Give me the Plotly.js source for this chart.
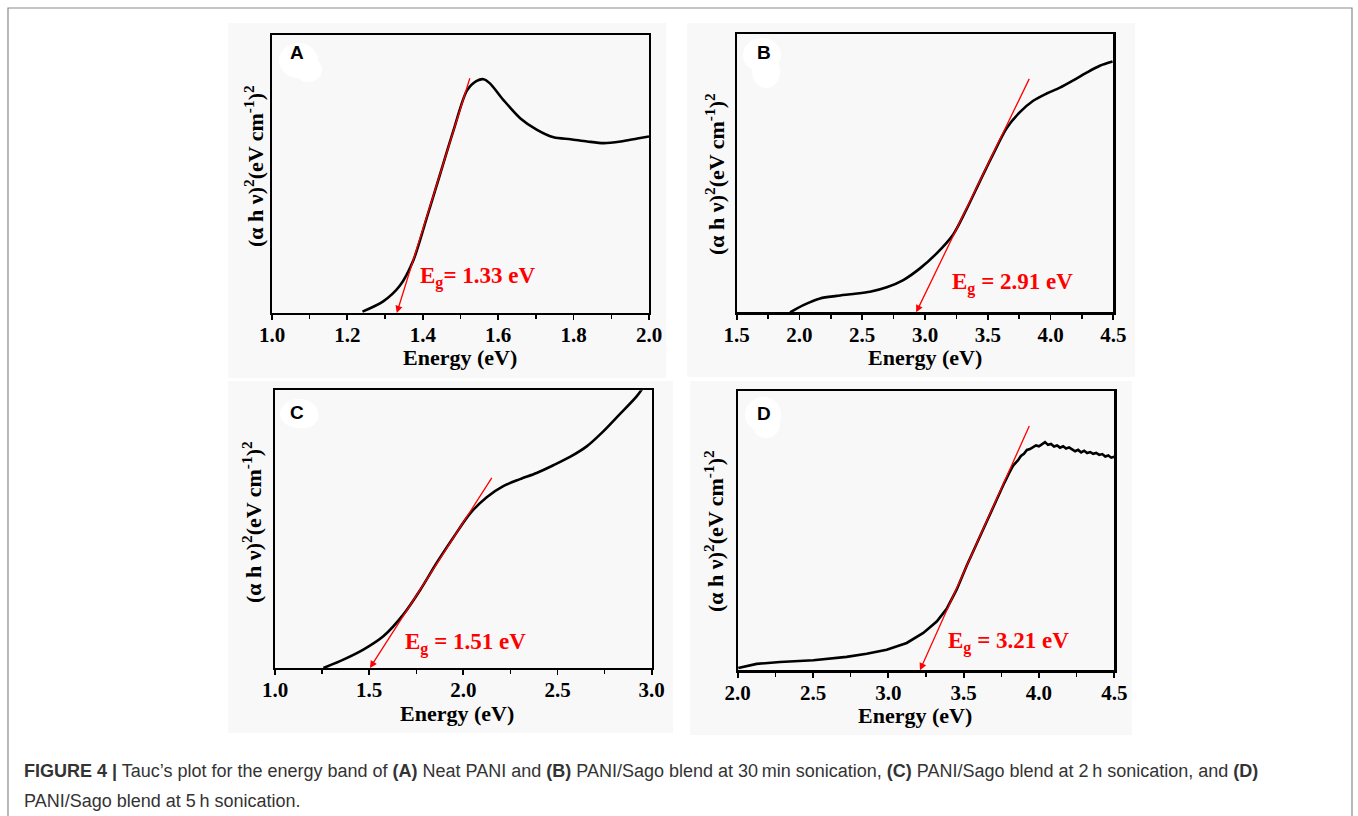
<!DOCTYPE html>
<html>
<head>
<meta charset="utf-8">
<script src="https://cdn.plot.ly/plotly-3.0.1.min.js"></script>
<style>
html,body{margin:0;padding:0;background:#fff;}
#chart{width:1358px;height:816px;}
</style>
</head>
<body>
<div id="chart"></div>
<script>
// ---------------- DATA ----------------
const panelLetters = ['A', 'B', 'C', 'D'];

// Panel A: Neat PANI
const energyA = [1.24, 1.295, 1.339, 1.375, 1.41, 1.446, 1.481, 1.517, 1.543, 1.561, 1.578, 1.614, 1.659, 1.703, 1.747, 1.792, 1.836, 1.88, 1.925, 1.969, 2.0];
const taucA   = [0.005, 0.042, 0.098, 0.19, 0.34, 0.50, 0.655, 0.80, 0.835, 0.841, 0.826, 0.766, 0.70, 0.659, 0.632, 0.625, 0.617, 0.611, 0.617, 0.628, 0.635];
const tangentAx = [1.331, 1.526];
const tangentAy = [0, 0.85];

// Panel B: PANI/Sago 30 min
const energyB = [1.925, 2.031, 2.164, 2.296, 2.429, 2.562, 2.695, 2.827, 2.96, 3.093, 3.225, 3.332, 3.438, 3.544, 3.65, 3.756, 3.862, 3.969, 4.075, 4.181, 4.287, 4.393, 4.494];
const taucB   = [0.0, 0.026, 0.05, 0.059, 0.066, 0.074, 0.09, 0.116, 0.158, 0.212, 0.28, 0.372, 0.472, 0.57, 0.662, 0.72, 0.761, 0.787, 0.808, 0.834, 0.862, 0.887, 0.902];
const tangentBx = [2.93, 3.836];
const tangentBy = [0, 0.845];

// Panel C: PANI/Sago 2 h
const energyC = [1.257, 1.363, 1.469, 1.575, 1.681, 1.77, 1.858, 1.947, 2.035, 2.124, 2.212, 2.301, 2.389, 2.478, 2.566, 2.655, 2.743, 2.832, 2.92, 2.975];
const taucC   = [0.0, 0.03, 0.066, 0.114, 0.192, 0.28, 0.378, 0.47, 0.556, 0.615, 0.655, 0.68, 0.702, 0.73, 0.76, 0.798, 0.852, 0.915, 0.978, 1.03];
const tangentCx = [1.504, 2.156];
const tangentCy = [0, 0.69];

// Panel D: PANI/Sago 5 h
const energyD = [2.004, 2.126, 2.281, 2.502, 2.723, 2.856, 2.989, 3.122, 3.232, 3.321, 3.387, 3.454, 3.52, 3.586, 3.653, 3.719, 3.77,
                 3.80, 3.83, 3.86, 3.88, 3.90, 3.92, 3.94, 3.96, 3.98, 4.00, 4.02, 4.04, 4.06, 4.08, 4.10, 4.12, 4.14, 4.16, 4.18, 4.20,
                 4.22, 4.24, 4.26, 4.28, 4.30, 4.32, 4.34, 4.36, 4.38, 4.40, 4.42, 4.44, 4.46, 4.48, 4.50];
const taucD   = [0.008, 0.023, 0.03, 0.036, 0.048, 0.059, 0.074, 0.098, 0.134, 0.175, 0.22, 0.29, 0.375, 0.455, 0.535, 0.615, 0.672,
                 0.705, 0.735, 0.752, 0.768, 0.776, 0.790, 0.793, 0.800, 0.806, 0.803, 0.812, 0.818, 0.808, 0.811, 0.802, 0.806, 0.798, 0.803, 0.795, 0.799,
                 0.792, 0.785, 0.790, 0.781, 0.787, 0.779, 0.782, 0.776, 0.779, 0.772, 0.775, 0.766, 0.770, 0.762, 0.765];
const tangentDx = [3.21, 3.94];
const tangentDy = [0, 0.881];

// Axis ranges and ticks
const xRanges = [[1.0, 2.0], [1.5, 4.5], [1.0, 3.0], [2.0, 4.5]];
const xDticks = [0.2, 0.5, 0.5, 0.5];
const xMinorDticks = [0.1, 0.25, 0.25, 0.25];

// Band gap labels
const egLabels = ['E<sub>g</sub>= 1.33 eV', 'E<sub>g</sub> = 2.91 eV', 'E<sub>g</sub> = 1.51 eV', 'E<sub>g</sub> = 3.21 eV'];
const egLabelX = [1.545, 3.70, 2.012, 3.80];
const egLabelY = [0.126, 0.104, 0.09, 0.098];

const xTitle = 'Energy (eV)';
const yTitle = '(α h ν)<sup>2</sup>(eV cm<sup>-1</sup>)<sup>2</sup>';
const captionLine1 = '<b>FIGURE 4 |</b> Tauc’s plot for the energy band of <b>(A)</b> Neat PANI and <b>(B)</b> PANI/Sago blend at 30\u2009min sonication, <b>(C)</b> PANI/Sago blend at 2\u2009h sonication, and <b>(D)</b>';
const captionLine2 = 'PANI/Sago blend at 5\u2009h sonication.';

// ---------------- LAYOUT ----------------
const W = 1358, H = 816;
const px = x => x / W;
const py = y => 1 - y / H;

// plot frames in pixels: [left, top, right, bottom]
const frames = [[272, 35, 649, 313], [736.7, 34.3, 1113.3, 312.3], [275, 390.3, 651.7, 668], [737.7, 391.3, 1114.3, 670.3]];
// gray image backgrounds
const panelsBg = [[228, 23, 666, 378], [687, 23, 1135, 377], [228, 381, 673, 733], [690, 381, 1132, 735]];
// letters & blobs
const letterPos = [[297, 53], [764, 53], [297, 412], [764, 413]];
const blobs = [[279, 43, 318, 78], [743, 38, 781, 72], [280, 399, 318, 428], [745, 397, 781, 432]];
const blobs2 = [[295, 58, 322, 82], [752, 55, 780, 88], [290, 405, 318, 428], [752, 410, 780, 438]];
const yTitlePos = [[254, 166], [715, 174], [252, 522], [714, 531]];
const xTitlePos = [[460, 357], [925, 357], [457, 713], [915, 715]];

const serif = '"Liberation Serif", "Times New Roman", serif';
const sans = '"Liberation Sans", Arial, sans-serif';

const energies = [energyA, energyB, energyC, energyD];
const taucs = [taucA, taucB, taucC, taucD];
const tanX = [tangentAx, tangentBx, tangentCx, tangentDx];
const tanY = [tangentAy, tangentBy, tangentCy, tangentDy];

const data = [];
const layout = {
  width: W, height: H,
  margin: {l: 0, r: 0, t: 0, b: 0},
  paper_bgcolor: '#ffffff',
  plot_bgcolor: 'rgba(0,0,0,0)',
  showlegend: false,
  shapes: [],
  annotations: []
};

// outer border
layout.shapes.push({type: 'rect', xref: 'paper', yref: 'paper', x0: px(8), x1: px(1352), y0: py(840), y1: py(8),
  line: {color: '#8a8a8a', width: 1.2}, fillcolor: 'rgba(0,0,0,0)', layer: 'below'});

for (let i = 0; i < 4; i++) {
  const sfx = i === 0 ? '' : String(i + 1);
  const xa = 'x' + sfx, ya = 'y' + sfx;
  const f = frames[i];
  const bg = panelsBg[i];
  layout.shapes.push({type: 'rect', xref: 'paper', yref: 'paper', x0: px(bg[0]), x1: px(bg[2]), y0: py(bg[3]), y1: py(bg[1]),
    line: {width: 0}, fillcolor: '#f8f8f8', layer: 'below'});

  layout['xaxis' + sfx] = {
    domain: [px(f[0]), px(f[2])], anchor: ya, range: xRanges[i],
    tick0: xRanges[i][0], dtick: xDticks[i], tickformat: '.1f',
    ticks: 'outside', ticklen: 5, tickwidth: 1.8, tickcolor: '#000',
    ticklabelstandoff: -3,
    minor: {dtick: xMinorDticks[i], tick0: xRanges[i][0], ticks: 'outside', ticklen: 4, tickwidth: 1.5, tickcolor: '#000'},
    showline: true, linecolor: '#000', linewidth: 2.2, mirror: true,
    showgrid: false, zeroline: false, fixedrange: true,
    tickfont: {family: serif, size: 21, color: '#000', weight: 'bold'}
  };
  layout['yaxis' + sfx] = {
    domain: [py(f[3]), py(f[1])], anchor: xa, range: [0, 1],
    showticklabels: false, ticks: '',
    showline: true, linecolor: '#000', linewidth: 2.2, mirror: true,
    showgrid: false, zeroline: false, fixedrange: true
  };

  data.push({
    type: 'scatter', mode: 'lines', x: energies[i], y: taucs[i], xaxis: xa, yaxis: ya,
    line: {color: '#000', width: 2.6, shape: i === 3 ? 'linear' : 'spline', smoothing: 0.8},
    hoverinfo: 'skip'
  });

  // tangent arrow
  layout.annotations.push({
    xref: xa, yref: ya, axref: xa, ayref: ya,
    x: tanX[i][0], y: tanY[i][0], ax: tanX[i][1], ay: tanY[i][1],
    text: '', showarrow: true, arrowhead: 2, arrowsize: 1.1, arrowwidth: 1.3, arrowcolor: '#ff0000', standoff: 0, startstandoff: 0
  });
  // Eg label
  layout.annotations.push({
    xref: xa, yref: ya, x: egLabelX[i], y: egLabelY[i], xanchor: 'center', yanchor: 'middle',
    text: egLabels[i], showarrow: false,
    font: {family: serif, size: 23, color: '#ff0000', weight: 'bold'}
  });

  // letter blob
  const b = blobs[i], b2 = blobs2[i];
  layout.shapes.push({type: 'circle', xref: 'paper', yref: 'paper', x0: px(b[0]), x1: px(b[2]), y0: py(b[3]), y1: py(b[1]),
    line: {width: 0}, fillcolor: '#ffffff', layer: 'above'});
  layout.shapes.push({type: 'circle', xref: 'paper', yref: 'paper', x0: px(b2[0]), x1: px(b2[2]), y0: py(b2[3]), y1: py(b2[1]),
    line: {width: 0}, fillcolor: '#ffffff', layer: 'above'});
  layout.annotations.push({
    xref: 'paper', yref: 'paper', x: px(letterPos[i][0]), y: py(letterPos[i][1]), xanchor: 'center', yanchor: 'middle',
    text: panelLetters[i], showarrow: false,
    font: {family: sans, size: 19, color: '#000', weight: 'bold'}
  });

  // axis titles
  layout.annotations.push({
    xref: 'paper', yref: 'paper', x: px(xTitlePos[i][0]), y: py(xTitlePos[i][1]), xanchor: 'center', yanchor: 'middle',
    text: xTitle, showarrow: false,
    font: {family: serif, size: 22, color: '#000', weight: 'bold'}
  });
  layout.annotations.push({
    xref: 'paper', yref: 'paper', x: px(yTitlePos[i][0]), y: py(yTitlePos[i][1]), xanchor: 'center', yanchor: 'middle',
    text: yTitle, showarrow: false, textangle: -90,
    font: {family: serif, size: 22, color: '#000', weight: 'bold'}
  });
}

// caption
layout.annotations.push({
  xref: 'paper', yref: 'paper', x: px(22), y: py(771), xanchor: 'left', yanchor: 'middle',
  text: captionLine1, showarrow: false, align: 'left',
  font: {family: sans, size: 18, color: '#333333'}
});
layout.annotations.push({
  xref: 'paper', yref: 'paper', x: px(22), y: py(801), xanchor: 'left', yanchor: 'middle',
  text: captionLine2, showarrow: false, align: 'left',
  font: {family: sans, size: 18, color: '#333333'}
});

Plotly.newPlot('chart', data, layout, {displayModeBar: false, staticPlot: true});
</script>
</body>
</html>
